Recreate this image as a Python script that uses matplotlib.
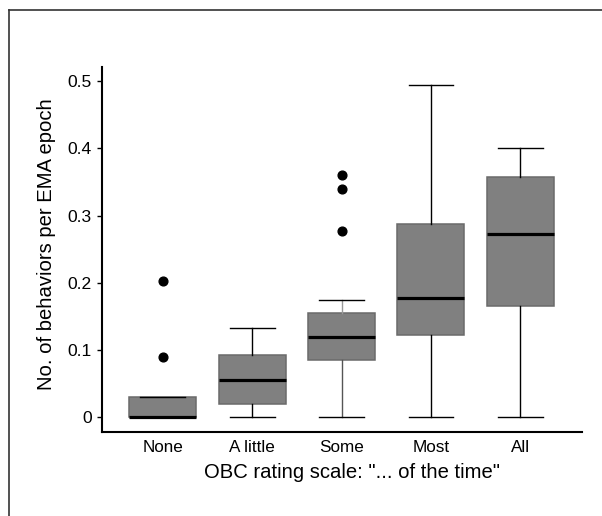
import matplotlib
matplotlib.use('Agg')
import matplotlib.pyplot as plt
from matplotlib.lines import Line2D

plt.rcParams['font.family'] = ['Liberation Sans', 'DejaVu Sans']

# data
categories = ['None', 'A little', 'Some', 'Most', 'All']
q1 = [0.0, 0.020, 0.085, 0.122, 0.166]
med = [0.0, 0.056, 0.120, 0.178, 0.273]
q3 = [0.030, 0.092, 0.155, 0.288, 0.358]
whislo = [0.0, 0.0, 0.0, 0.0, 0.0]
whishi = [0.030, 0.133, 0.175, 0.494, 0.400]
outliers = [[0.203, 0.089], [], [0.360, 0.340, 0.277], [], []]

y_ticks = [0, 0.1, 0.2, 0.3, 0.4, 0.5]
y_ticklabels = ['0', '0.1', '0.2', '0.3', '0.4', '0.5']

stats = []
for i in range(len(categories)):
    stats.append({'label': categories[i], 'q1': q1[i], 'med': med[i], 'q3': q3[i],
                  'whislo': whislo[i], 'whishi': whishi[i], 'fliers': outliers[i]})

fig = plt.figure(figsize=(6.02, 5.16), dpi=100)
ax = fig.add_axes([0.1694, 0.1628, 0.7974, 0.7074])

bp = ax.bxp(stats, positions=range(1, 6), widths=0.75, patch_artist=True,
            boxprops=dict(facecolor='#808080', edgecolor='#6a6a6a', linewidth=1.1),
            medianprops=dict(color='black', linewidth=2.3),
            whiskerprops=dict(color='black', linewidth=1.0),
            capprops=dict(color='black', linewidth=1.0),
            capwidths=0.5,
            flierprops=dict(marker='o', markerfacecolor='black', markeredgecolor='black',
                            markersize=6.3))
# "Some" whiskers are drawn grey in the original
bp['whiskers'][4].set_color('#555555')
bp['whiskers'][5].set_color('#999999')

ax.set_xlim(0.32, 5.69)
ax.set_ylim(-0.022, 0.521)
ax.set_yticks(y_ticks)
ax.set_yticklabels(y_ticklabels)
ax.set_xticks(range(1, 6))
ax.set_xticklabels(categories)

for s in ['top', 'right']:
    ax.spines[s].set_visible(False)
for s in ['left', 'bottom']:
    ax.spines[s].set_linewidth(1.5)
ax.tick_params(axis='y', length=3.8, width=1.0, labelsize=12.6, pad=3.5)
ax.tick_params(axis='x', length=0, labelsize=12.3, pad=6)

ax.set_xlabel('OBC rating scale: "... of the time"', fontsize=14.6)
ax.set_ylabel('No. of behaviors per EMA epoch', fontsize=14.6)
ax.xaxis.set_label_coords(0.52, -0.084)
ax.yaxis.set_label_coords(-0.095, 0.515)

# frame around the figure (cut off at right/bottom)
fig.add_artist(Line2D([9 / 602, 1], [1 - 10 / 516, 1 - 10 / 516], color='#333333', lw=1.2))
fig.add_artist(Line2D([9 / 602, 9 / 602], [0, 1 - 10 / 516], color='#333333', lw=1.2))

fig.savefig('out.png', dpi=100)
